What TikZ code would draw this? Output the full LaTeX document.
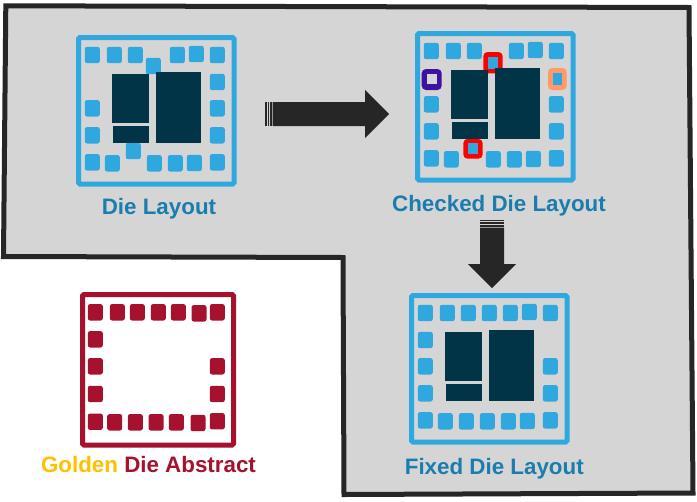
\documentclass[tikz,border=0pt]{standalone}
\usepackage{fontspec}
\usepackage{xcolor}
\setmainfont{Liberation Sans}
\definecolor{Sheet}{HTML}{D5D5D5}
\definecolor{Outline}{HTML}{262626}
\definecolor{PadBlue}{HTML}{2FA8E0}
\definecolor{ChipDark}{HTML}{023447}
\definecolor{LabelBlue}{HTML}{1B7DAE}
\definecolor{GoldenRed}{HTML}{A6122D}
\definecolor{GoldenYellow}{HTML}{FFC000}
\definecolor{RingPurple}{HTML}{40109E}
\definecolor{RingOrange}{HTML}{FF9966}
\definecolor{RingRed}{HTML}{FF0000}

\begin{document}
\begin{tikzpicture}[x=0.025cm,y=-0.025cm,font=\bfseries\fontsize{15.9}{18}\selectfont,frame/.style={line width=0.125cm,rounded corners=1pt},pad/.style={rounded corners=1.6pt,fill=PadBlue},redpad/.style={rounded corners=1.6pt,fill=GoldenRed},ring/.style={rounded corners=3pt},chip/.style={fill=ChipDark},lbl/.style={anchor=base,inner sep=0pt,text=LabelBlue},tip/.style={fill=Outline}]
\useasboundingbox (0,0) rectangle (697,501);
\fill[white] (0,0) rectangle (697,501);
\draw[Outline,fill=Sheet,line width=0.125cm,line join=miter] (5.8,5.8) -- (689,7.5) -- (693,493) -- (344,494.5) -- (343,257.5) -- (3.5,256.5) -- cycle;
\foreach \dx/\dy in {0/0,339/-4,333/258}{
\draw[PadBlue,frame] (78.5+\dx,37.5+\dy) rectangle (234+\dx,184+\dy);
}
\foreach \dx/\dy in {0/0,339/-4}{
\foreach \x/\y in {92.3/55,114.3/55,135.3/55,177.3/55,196.3/54,217.3/55,153.3/66,217.3/82,217.3/108.3,217.3/135.3,217.3/162.3,92.3/108.3,92.3/135.3,92.3/162.3,112.3/163.3,133.3/151,154.3/163.3,175.3/163.3,194.3/163}{
\fill[pad] (\x+\dx-7.5,\y+\dy-8.2) rectangle ++(15,16.4);
}
}
\foreach \x/\y in {92.3/55,114.3/55,135.3/55,156.3/55,177.3/55,196.3/54,217.3/55,92.3/82,92.3/108.3,92.3/135.3,217.3/108.3,217.3/135.3,92.3/162.3,112.3/163.3,133.3/163.3,154.3/163.3,175.3/163.3,194.3/163,217.3/162.3}{
\fill[pad] (\x+333-7.5,\y+258-8.2) rectangle ++(15,16.4);
}
\fill[RingRed,ring] (483.3,52) rectangle (502.7,73.3);
\fill[PadBlue] (488,57.3) rectangle (498.3,68.7);
\fill[RingRed,ring] (463.3,139) rectangle (482.7,158.7);
\fill[PadBlue] (468,142.5) rectangle (478,154);
\fill[RingPurple,ring] (421.7,69) rectangle (441.7,90);
\fill[Sheet] (427,74) rectangle (437,84.3);
\fill[RingOrange,ring] (548,68) rectangle (566.7,90);
\fill[PadBlue] (553.3,73.3) rectangle (562,85);
\foreach \dx/\dy in {0/0,339/-4,333/258}{
\fill[chip] (112+\dx,74+\dy) rectangle (149+\dx,123+\dy);
\fill[chip] (113+\dx,126+\dy) rectangle (149+\dx,143+\dy);
\fill[chip] (156+\dx,72+\dy) rectangle (201+\dx,143+\dy);
}
\draw[GoldenRed,frame] (82.5,294.5) rectangle (233.5,445);
\foreach \x/\y in {95.3/312.3,117.3/312.3,137.3/312.3,158.3/312.3,178.3/312.3,199/313.3,217.3/312.3,95.3/339.3,95.3/366.3,95.3/394,217.3/366.3,217.3/394,95.3/421.7,114.7/422.3,135.3/422.3,156/422.3,176.3/422.3,198/423,217.3/421.2}{
\fill[redpad] (\x-7.5,\y-8.2) rectangle ++(15,16.4);
}
\fill[tip] (272.7,102) -- (365,102) -- (365,90) -- (389,114) -- (365,138) -- (365,126) -- (272.7,126) -- cycle;
\foreach \x/\w in {265/1.5,267.5/1.5,270/1.7}{
\fill[tip] (\x,102) rectangle ++(\w,24);
}
\fill[tip] (480,227.7) -- (480,264) -- (468,264) -- (492,288) -- (516,264) -- (504,264) -- (504,227.7) -- cycle;
\foreach \y/\h in {220/1.2,222.4/1.4,225/1.5}{
\fill[tip] (480,\y) rectangle ++(24,\h);
}
\node[lbl] (dieLabel) at (159,214){Die Layout};
\node[lbl] (checkedLabel) at (499,211.7){Checked Die Layout};
\node[lbl] (fixedLabel) at (494.3,474){Fixed Die Layout};
\node[anchor=base,inner sep=0pt,text=GoldenRed] (goldenLabel) at (148.5,472.7){\textcolor{GoldenYellow}{Golden} Die Abstract};
\end{tikzpicture}
\end{document}
